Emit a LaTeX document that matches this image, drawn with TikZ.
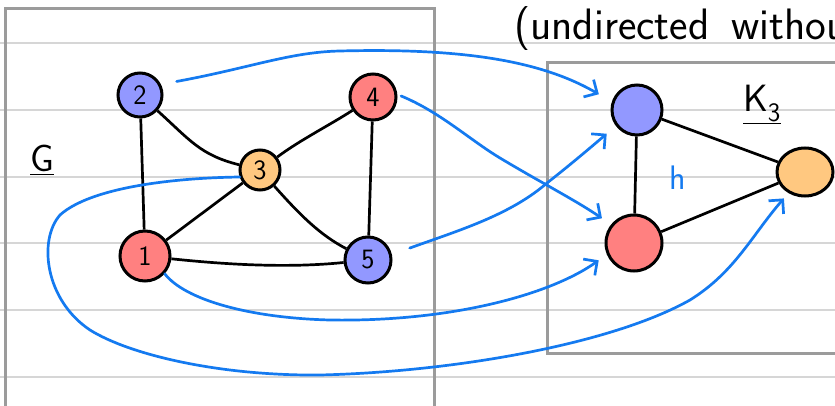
\documentclass[tikz,border=0pt]{standalone}
\usetikzlibrary{arrows.meta,shapes.geometric}
\definecolor{pen}{RGB}{20,122,240}
\definecolor{nblue}{RGB}{146,152,255}
\definecolor{nred}{RGB}{255,128,128}
\definecolor{norange}{RGB}{255,200,128}
\definecolor{ruling}{RGB}{214,214,214}
\definecolor{framegray}{RGB}{155,155,155}
\begin{document}
\begin{tikzpicture}[x=1pt,y=-1pt,
  vtx/.style={circle,draw=black,line width=3pt,inner sep=0pt,font=\sffamily\fontsize{28}{28}\selectfont},
  edge/.style={black,line width=2.7pt},
  map/.style={pen,line width=2.7pt,line cap=round,line join=round,-{Straight Barb[length=10pt,width=20pt,line width=2.7pt]}},
  box/.style={framegray,line width=3pt},
  hand/.style={font=\sffamily\fontsize{38}{38}\selectfont,inner sep=0pt}]
  \useasboundingbox (0,0) rectangle (835,406);
  \fill[white] (0,0) rectangle (835,406);
  % ruled paper
  \foreach \yy in {43,110,177,243,310,377}
    \draw[ruling,line width=1.3pt] (0,\yy) -- (835,\yy);
  % frames
  \draw[box] (5,9) rectangle (434,412);
  \draw[box] (547,63) rectangle (842,353);
  % title, running on past the right edge of the sheet
  \node[hand,anchor=base west,font=\sffamily\fontsize{44}{44}\selectfont] (title) at (514,40) {(undirected\hspace{22pt}without};
  % graph G
  \node[hand,anchor=base] (lblG) at (42,172) {\underline{G}};
  \node[vtx,fill=nblue,minimum size=44pt] (n2) at (140,95) {2};
  \node[vtx,fill=nred,minimum size=46pt] (n4) at (373,97) {4};
  \node[vtx,fill=norange,minimum size=40pt] (n3) at (260,170) {3};
  \node[vtx,fill=nred,minimum size=50pt] (n1) at (145,256) {1};
  \node[vtx,fill=nblue,minimum size=46pt] (n5) at (368,260) {5};
  \draw[edge] (n2) -- (n1);
  \draw[edge] (n2) .. controls (190,140) and (200,155) .. (n3);
  \draw[edge] (n3) .. controls (300,140) and (330,125) .. (n4);
  \draw[edge] (n3) -- (n1);
  \draw[edge] (n3) .. controls (300,215) and (320,235) .. (n5);
  \draw[edge] (n4) -- (n5);
  \draw[edge] (n1) .. controls (230,265) and (290,268) .. (n5);
  % target K3
  \node[hand,anchor=base] (lblK) at (762,112) {\underline{K\textsubscript{3}}};
  \node[vtx,fill=nblue,minimum size=50pt] (kb) at (637,110) {};
  \node[vtx,fill=nred,minimum size=56pt] (kr) at (634,243) {};
  \node[ellipse,draw=black,line width=3pt,fill=norange,minimum width=56pt,minimum height=48pt,inner sep=0pt] (ko) at (805,172) {};
  \draw[edge] (kb) -- (kr);
  \draw[edge] (kb) -- (ko);
  \draw[edge] (kr) -- (ko);
  \node[hand,text=pen,font=\sffamily\fontsize{34}{34}\selectfont,anchor=base] (hlbl) at (678,190) {h};
  % the map h
  \draw[map,shorten <=16pt,shorten >=15pt] (n2.27) .. controls (250,68) and (290,52) .. (340,51)
        .. controls (460,48) and (540,60) .. (kb.162);
  \draw[map,shorten <=4pt,shorten >=11pt] (n4.6) .. controls (440,112) and (470,140) .. (500,158)
        .. controls (540,182) and (575,200) .. (kr.141);
  \draw[map,shorten <=19pt,shorten >=12pt] (n5.13) .. controls (460,230) and (510,215) .. (547,183)
        .. controls (570,165) and (590,148) .. (kb.217);
  \draw[map,shorten >=10pt] (n1.-42) .. controls (185,300) and (250,318) .. (330,320)
        .. controls (450,322) and (550,295) .. (kr.203);
  \draw[map,shorten >=7pt] (n3.199) .. controls (170,178) and (90,188) .. (60,215)
        .. controls (38,240) and (45,300) .. (90,330)
        .. controls (130,355) and (220,376) .. (320,375)
        .. controls (450,372) and (610,345) .. (690,300)
        .. controls (735,272) and (752,235) .. (ko.232);
\end{tikzpicture}
\end{document}
